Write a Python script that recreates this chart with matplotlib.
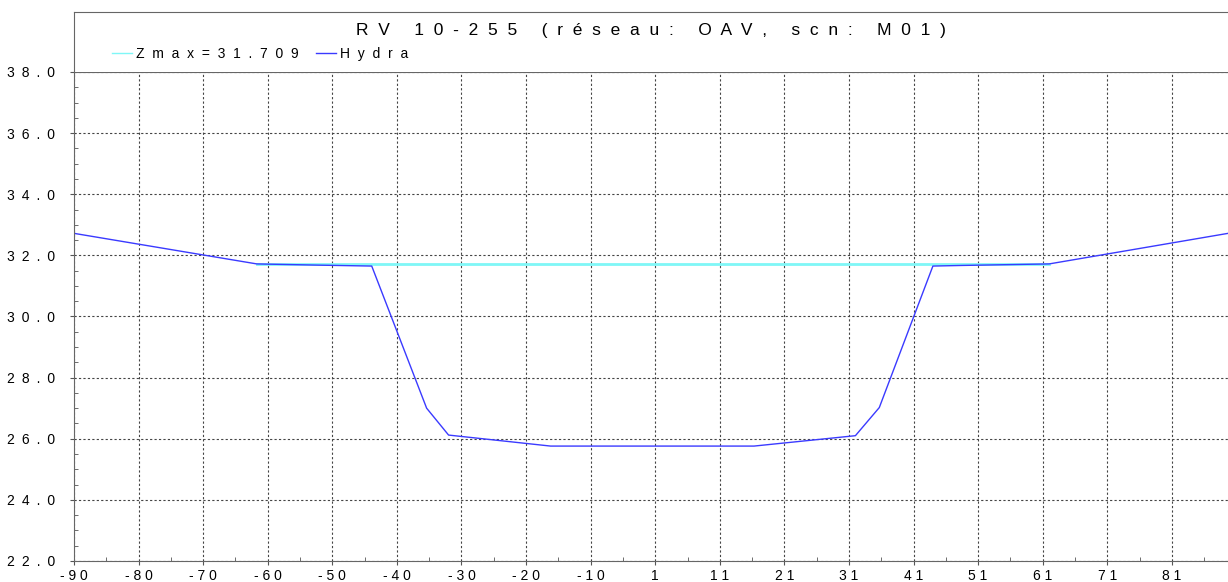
import matplotlib.pyplot as plt
from matplotlib.ticker import MultipleLocator

# profil en travers (abscisse, cote)
x_hydra = [-90.0, -61.7, -52.0, -43.9, -35.4, -32.0, -16.2, 15.3, 31.0, 34.7, 43.0, 47.4, 61.0, 88.7]
z_hydra = [32.72, 31.72, 31.68, 31.65, 27.0, 26.12, 25.76, 25.76, 26.1, 27.02, 31.65, 31.67, 31.72, 32.72]

zmax = 31.709
x_zmax = [-61.7, 61.0]

xticks = [-90, -80, -70, -60, -50, -40, -30, -20, -10, 0, 10, 20, 30, 40, 50, 60, 70, 80]
xlabels = ['-90', '-80', '-70', '-60', '-50', '-40', '-30', '-20', '-10',
           '1', '11', '21', '31', '41', '51', '61', '71', '81']
yticks = [22, 24, 26, 28, 30, 32, 34, 36, 38]

title = 'RV 10-255 (réseau: OAV, scn: M01)'


def spaced(s, sep=' '):
    return sep.join(s)


plt.rcParams['font.family'] = ['Liberation Sans', 'DejaVu Sans']

fig = plt.figure(figsize=(12.28, 5.82), dpi=100)
ax = fig.add_axes([0.0603, 0.0361, 0.9397, 0.8402])
head = fig.add_axes([0.0603, 0.8763, 0.9397, 0.1031])

ax.plot(x_zmax, [zmax, zmax], color='#7ff7f7', lw=2, label=spaced('Zmax=%.3f' % zmax, '  '))
ax.plot(x_hydra, z_hydra, color='#3a3aff', lw=1, label=spaced('Hydra', '  '))

ax.set_xlim(-90, 88.7)
ax.set_ylim(22, 38)

ax.set_xticks(xticks)
ax.set_xticklabels([spaced(s) for s in xlabels], fontsize=10)
ax.set_yticks(yticks)
ax.set_yticklabels([spaced('%.1f' % v, '\u2002') for v in yticks], fontsize=10)
ax.xaxis.set_minor_locator(MultipleLocator(5))
ax.yaxis.set_minor_locator(MultipleLocator(0.5))
ax.tick_params(which='major', direction='out', length=3, color='#555555')
ax.tick_params(which='minor', direction='in', length=3, color='#555555')
ax.tick_params(axis='x', pad=3)
ax.tick_params(axis='y', pad=10.5)

ax.grid(True, which='major', linestyle=(0, (2, 2)), color='#444444', lw=0.8)

for side in ['left', 'bottom', 'top']:
    ax.spines[side].set_color('#666666')
ax.spines['right'].set_visible(False)

# bandeau titre + légende
head.set_xticks([])
head.set_yticks([])
head.spines['right'].set_visible(False)
head.spines['bottom'].set_visible(False)
for side in ['left', 'top']:
    head.spines[side].set_color('#666666')

head.text(0.5, 0.69, spaced(title, '  '), transform=head.transAxes, ha='center', va='center',
          fontsize=12.5)

handles, labels = ax.get_legend_handles_labels()
leg = head.legend(handles, labels, loc='center left', bbox_to_anchor=(0.0329, 0.3), ncol=2,
                  frameon=False, fontsize=10, handlelength=1.45, handletextpad=0.25,
                  columnspacing=1.3, borderpad=0, borderaxespad=0)
for line in leg.get_lines():
    line.set_linewidth(1)

fig.savefig('out.png', dpi=100)
